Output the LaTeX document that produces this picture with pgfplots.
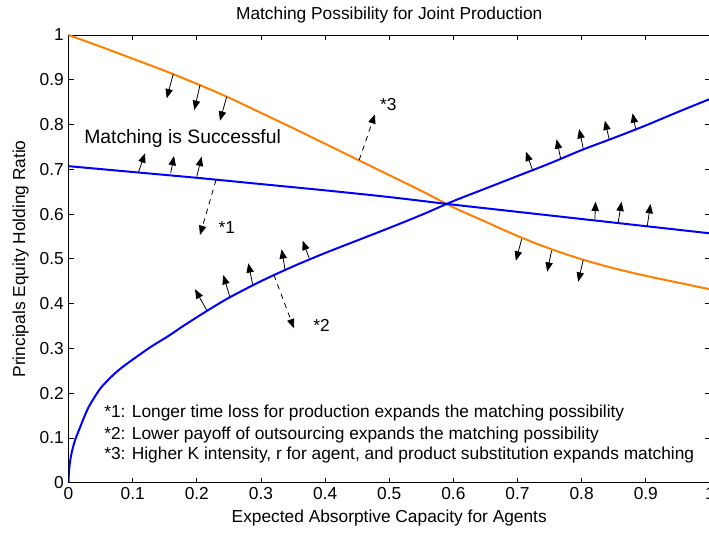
\documentclass[border=0pt]{standalone}
\usepackage{fontspec}
\setmainfont{Liberation Sans}
\usepackage{pgfplots}
\pgfplotsset{compat=1.18}
\usetikzlibrary{arrows.meta}
\definecolor{mlorange}{RGB}{255,128,0}
\definecolor{mlblue}{RGB}{0,0,255}
\tikzset{
    arr/.style={-{Triangle[length=7pt,width=5.5pt]}, line width=0.6pt, black},
    darr/.style={arr, dash pattern=on 4pt off 3.5pt},
    note/.style={anchor=west, inner sep=0pt, font=\fontsize{13}{15}\selectfont},
}

\begin{document}
\begin{tikzpicture}
\begin{axis}[
    scale only axis,
    width=481.1pt, height=335.8pt,
    xmin=0, xmax=1, ymin=0, ymax=1,
    xtick={0,0.1,0.2,0.3,0.4,0.5,0.6,0.7,0.8,0.9,1},
    ytick={0,0.1,0.2,0.3,0.4,0.5,0.6,0.7,0.8,0.9,1},
    tick align=inside,
    major tick length=3.75pt,
    axis line style={line width=0.6pt},
    every tick/.style={black, line width=0.6pt},
    /pgf/number format/assume math mode=true,
    ticklabel style={font=\fontsize{13}{15}\selectfont},
    title={Matching Possibility for Joint Production},
    every axis title/.style={at={(axis description cs:0.5,1)}, yshift=15pt,
                 anchor=center, font=\fontsize{13}{15}\selectfont},
    xlabel={Expected Absorptive Capacity for Agents},
    every axis x label/.style={at={(axis description cs:0.5,0)}, yshift=-26.5pt,
                 anchor=center, font=\fontsize{13}{15}\selectfont},
    ylabel={Principals Equity Holding Ratio},
    every axis y label/.style={at={(axis description cs:0,0.5)}, xshift=-36pt,
                 rotate=90, anchor=center, font=\fontsize{13}{15}\selectfont},
]
% orange curve
\addplot[mlorange, line width=1.5pt, smooth] coordinates {
 (0,1.000) (0.05,0.974) (0.1,0.947) (0.15,0.920) (0.2,0.891) (0.25,0.860)
 (0.3,0.826) (0.35,0.792) (0.4,0.757) (0.45,0.722) (0.5,0.687) (0.55,0.652)
 (0.6,0.615) (0.65,0.583) (0.7,0.551) (0.75,0.523) (0.8,0.499) (0.85,0.479)
 (0.9,0.462) (0.95,0.447) (1.0,0.432)
};
% flat blue curve
\addplot[mlblue, line width=1.5pt, smooth] coordinates {
 (0,0.707) (0.1,0.694) (0.2,0.681) (0.3,0.667) (0.4,0.653) (0.5,0.638)
 (0.6,0.621) (0.7,0.605) (0.8,0.589) (0.9,0.573) (1.0,0.557)
};
% rising blue curve
\addplot[mlblue, line width=1.5pt, smooth] coordinates {
 (0,0) (0.0003,0.015) (0.001,0.030) (0.0025,0.048) (0.005,0.068) (0.01,0.094)
 (0.0175,0.122) (0.030,0.165) (0.041,0.192) (0.051,0.213) (0.067,0.237)
 (0.082,0.256) (0.103,0.278) (0.129,0.304) (0.155,0.327) (0.181,0.352)
 (0.215,0.383) (0.25,0.413) (0.3,0.450) (0.35,0.483) (0.4,0.513) (0.45,0.541)
 (0.5,0.569) (0.55,0.598) (0.6,0.629) (0.65,0.657) (0.7,0.685) (0.75,0.713)
 (0.8,0.743) (0.85,0.770) (0.9,0.798) (0.95,0.828) (1.0,0.857)
};

% arrows on the orange curve
\draw[arr] (0.1633,0.9129) -- (0.1531,0.8586);
\draw[arr] (0.2050,0.8883) -- (0.1961,0.8325);
\draw[arr] (0.2466,0.8622) -- (0.2361,0.8086);
\draw[arr] (0.7064,0.5437) -- (0.6975,0.4959);
\draw[arr] (0.7531,0.5182) -- (0.7463,0.4713);
\draw[arr] (0.8024,0.4974) -- (0.7946,0.4490);
% arrows on the flat blue curve
\draw[arr] (0.1088,0.6924) -- (0.1192,0.7357);
\draw[arr] (0.1593,0.6911) -- (0.1644,0.7297);
\draw[arr] (0.1998,0.6835) -- (0.2076,0.7282);
\draw[arr] (0.8206,0.5883) -- (0.8217,0.6276);
\draw[arr] (0.8569,0.5807) -- (0.8622,0.6276);
\draw[arr] (0.9021,0.5718) -- (0.9074,0.6225);
% arrows on the rising blue curve
\draw[arr] (0.2154,0.3857) -- (0.1972,0.4320);
\draw[arr] (0.2517,0.4141) -- (0.2413,0.4639);
\draw[arr] (0.2871,0.4432) -- (0.2802,0.4901);
\draw[arr] (0.3374,0.4767) -- (0.3323,0.5213);
\draw[arr] (0.3753,0.5012) -- (0.3650,0.5405);
\draw[arr] (0.7235,0.6985) -- (0.7131,0.7393);
\draw[arr] (0.7672,0.7246) -- (0.7609,0.7670);
\draw[arr] (0.8024,0.7469) -- (0.7961,0.7900);
\draw[arr] (0.8429,0.7670) -- (0.8362,0.8086);
\draw[arr] (0.8845,0.7878) -- (0.8794,0.8251);
% dashed shift arrows
\draw[darr] (0.2299,0.6761) -- (0.2050,0.5533);
\draw[darr] (0.3203,0.4639) -- (0.3515,0.3449);
\draw[darr] (0.4532,0.7208) -- (0.4777,0.8229);

\node[note] at (0.2335,0.5705) {*1};
\node[note] at (0.3815,0.3522) {*2};
\node[note] at (0.4855,0.8436) {*3};
\node[note, font=\fontsize{14.5}{16}\selectfont] at (0.0242,0.7677) {Matching is Successful};
\node[note] at (0.0553,0.1550) {*1: Longer time loss for production expands the matching possibility};
\node[note] at (0.0553,0.1065) {*2: Lower payoff of outsourcing expands the matching possibility};
\node[note] at (0.0553,0.0619) {*3: Higher K intensity, r for agent, and product substitution expands matching};
\end{axis}
\pgfresetboundingbox
\path[use as bounding box] (-51.4pt,-39.2pt) rectangle (480.4pt,362.05pt);
\end{tikzpicture}
\end{document}
